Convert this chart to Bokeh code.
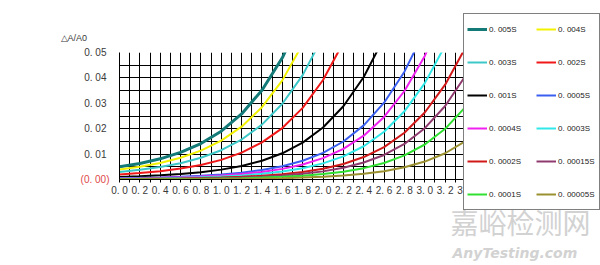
from bokeh.plotting import figure
from bokeh.models import FixedTicker, Legend, LegendItem, Range1d, LinearAxis, Title
from bokeh.embed import file_html
from bokeh.resources import INLINE

# ---- data (absorbance A on x, relative error dA/A0 on y) ----
x_values = [0.0, 0.2, 0.4, 0.6, 0.8, 1.0, 1.2, 1.4, 1.6, 1.8,
            2.0, 2.2, 2.4, 2.6, 2.8, 3.0, 3.2, 3.4, 3.6]

s_0005 = [0.00498, 0.00631, 0.00814, 0.01066, 0.01416, 0.01902, 0.02580, 0.03516, 0.04792, 0.06495]
s_0004 = [0.00398, 0.00505, 0.00652, 0.00855, 0.01136, 0.01530, 0.02080, 0.02846, 0.03903, 0.05334]
s_0003 = [0.00299, 0.00380, 0.00490, 0.00643, 0.00855, 0.01154, 0.01573, 0.02161, 0.02981, 0.04110, 0.05632]
s_0002 = [0.00200, 0.00253, 0.00327, 0.00429, 0.00572, 0.00773, 0.01057, 0.01459, 0.02025, 0.02819, 0.03916, 0.05396]
s_0001 = [0.00100, 0.00127, 0.00164, 0.00215, 0.00287, 0.00389, 0.00533, 0.00739, 0.01033, 0.01452,
          0.02048, 0.02885, 0.04037, 0.05581]
s_00005 = [0.00050, 0.00064, 0.00082, 0.00108, 0.00144, 0.00195, 0.00268, 0.00372, 0.00521, 0.00737,
           0.01049, 0.01496, 0.02132, 0.03024, 0.04245, 0.05863]
s_00004 = [0.00040, 0.00051, 0.00066, 0.00086, 0.00115, 0.00156, 0.00214, 0.00298, 0.00418, 0.00592,
           0.00843, 0.01206, 0.01725, 0.02462, 0.03484, 0.04865, 0.06658]
s_00003 = [0.00030, 0.00038, 0.00049, 0.00065, 0.00086, 0.00117, 0.00161, 0.00224, 0.00314, 0.00445,
           0.00635, 0.00911, 0.01309, 0.01880, 0.02684, 0.03794, 0.05275]
s_00002 = [0.00020, 0.00025, 0.00033, 0.00043, 0.00058, 0.00078, 0.00107, 0.00149, 0.00210, 0.00298,
           0.00426, 0.00612, 0.00883, 0.01276, 0.01840, 0.02637, 0.03734, 0.05197]
s_000015 = [0.00015, 0.00019, 0.00025, 0.00032, 0.00043, 0.00059, 0.00081, 0.00112, 0.00158, 0.00224,
            0.00320, 0.00461, 0.00667, 0.00966, 0.01400, 0.02021, 0.02893, 0.04082, 0.05647]
s_00001 = [0.00010, 0.00013, 0.00016, 0.00022, 0.00029, 0.00039, 0.00054, 0.00075, 0.00105, 0.00149,
           0.00214, 0.00308, 0.00447, 0.00650, 0.00948, 0.01378, 0.01995, 0.02861, 0.04042]
s_000005 = [0.00005, 0.00006, 0.00008, 0.00011, 0.00014, 0.00020, 0.00027, 0.00037, 0.00053, 0.00075,
            0.00107, 0.00155, 0.00225, 0.00328, 0.00481, 0.00706, 0.01034, 0.01511, 0.02189]

series_names = ["0. 005S", "0. 004S", "0. 003S", "0. 002S", "0. 001S", "0. 0005S",
                "0. 0004S", "0. 0003S", "0. 0002S", "0. 00015S", "0. 0001S", "0. 00005S"]
series_values = [s_0005, s_0004, s_0003, s_0002, s_0001, s_00005,
                 s_00004, s_00003, s_00002, s_000015, s_00001, s_000005]
series_colors = ["#137a78", "#f2f200", "#3cc8c8", "#f01818", "#000000", "#3a5ff0",
                 "#f020f0", "#30e8e8", "#d01818", "#8e3a6e", "#30e030", "#9a9030"]
series_widths = [3, 2, 2, 2, 2, 2, 2, 2, 2, 2, 2, 2]

x_tick_values = [0.0, 0.1, 0.2, 0.3, 0.4, 0.5, 0.6, 0.7, 0.8, 0.9, 1.0, 1.1, 1.2, 1.3, 1.4, 1.5,
                 1.6, 1.7, 1.8, 1.9, 2.0, 2.1, 2.2, 2.3, 2.4, 2.5, 2.6, 2.7, 2.8, 2.9, 3.0, 3.1,
                 3.2, 3.3, 3.4]
x_tick_labels = ["0. 0", "", "0. 2", "", "0. 4", "", "0. 6", "", "0. 8", "", "1. 0", "", "1. 2", "",
                 "1. 4", "", "1. 6", "", "1. 8", "", "2. 0", "", "2. 2", "", "2. 4", "", "2. 6", "",
                 "2. 8", "", "3. 0", "", "3. 2", "", "3. 4"]
y_tick_values = [0.01, 0.02, 0.03, 0.04, 0.05]
y_tick_labels = ["0. 01", "0. 02", "0. 03", "0. 04", "0. 05"]
zero_tick = [0.0]
zero_label = ["(0. 00)"]
y_title = "△A/A0"
watermark_cn = "嘉峪检测网"
watermark_en = "AnyTesting.com"

# ---- figure ----
LEFT, TOP, BOTTOM = 119, 52, 86
FRAME_W, FRAME_H = 346, 127
x_end = 3.4

p = figure(width=600, height=265, frame_width=FRAME_W, frame_height=FRAME_H,
           output_backend="svg", toolbar_location=None,
           x_range=Range1d(0, x_end), y_range=Range1d(0, 0.05),
           min_border_left=LEFT, min_border_right=0,
           min_border_top=TOP, min_border_bottom=BOTTOM)
p.outline_line_color = None
p.background_fill_color = "white"
p.border_fill_color = "white"

grid_x = [i / 10 for i in range(0, 35)]
grid_y = [i / 200 for i in range(0, 11)]
p.xgrid.ticker = FixedTicker(ticks=grid_x)
p.ygrid.ticker = FixedTicker(ticks=grid_y)
for g in (p.xgrid, p.ygrid):
    g.grid_line_color = "black"
    g.grid_line_width = 1
    g.grid_line_alpha = 1

font = "Liberation Sans"
p.xaxis.ticker = FixedTicker(ticks=x_tick_values)
p.xaxis.major_label_overrides = {t: l for t, l in zip(x_tick_values, x_tick_labels)}
p.xaxis.major_tick_out = 3
p.xaxis.major_tick_in = 0
p.xaxis.minor_tick_line_color = None
p.xaxis.major_label_standoff = 2
p.yaxis.ticker = FixedTicker(ticks=y_tick_values)
p.yaxis.major_label_overrides = {t: l for t, l in zip(y_tick_values, y_tick_labels)}
p.yaxis.major_tick_out = 0
p.yaxis.major_tick_in = 0
p.yaxis.minor_tick_line_color = None
p.yaxis.major_label_standoff = 13
for ax in (p.xaxis, p.yaxis):
    ax.axis_line_color = "black"
    ax.axis_line_width = 1
    ax.major_tick_line_color = "black"
    ax.major_label_text_font = font
    ax.major_label_text_font_size = "10px"
    ax.major_label_text_color = "#3a3a3a"

# red "(0. 00)" label as a second left axis carrying only the zero tick
zero_axis = LinearAxis(ticker=FixedTicker(ticks=zero_tick),
                       major_label_overrides={t: l for t, l in zip(zero_tick, zero_label)},
                       axis_line_color=None, major_tick_line_color=None,
                       minor_tick_line_color=None, major_tick_out=0, major_tick_in=0,
                       major_label_standoff=-28,
                       major_label_text_font=font, major_label_text_font_size="10px",
                       major_label_text_color="#e04848")
p.add_layout(zero_axis, "left")

items = []
for name, ys, color, w in zip(series_names, series_values, series_colors, series_widths):
    r = p.line(x_values[:len(ys)], ys, line_color=color, line_width=w)
    items.append(LegendItem(label=name, renderers=[r]))

legend = Legend(items=items, location=(-2, -31), orientation="horizontal", ncols=2,
                padding=3, spacing=9, margin=0,
                glyph_width=20, glyph_height=24, label_height=24, label_width=38,
                label_standoff=2,
                label_text_font=font, label_text_font_size="8px", label_text_color="#222222",
                border_line_color="black", border_line_width=1,
                background_fill_color="white", background_fill_alpha=1)
p.add_layout(legend, "right")

p.title = Title(text=y_title, align="left", offset=-59, standoff=19,
                text_font=font, text_font_size="9px", text_font_style="normal",
                text_color="#3a3a3a")

# watermark
p.add_layout(Title(text=watermark_cn, align="left", offset=331, standoff=2,
                   text_font="Noto Sans CJK SC", text_font_size="28px",
                   text_font_style="normal", text_color="#d2d2d2"), "below")
p.add_layout(Title(text=watermark_en, align="left", offset=333, standoff=0,
                   text_font="DejaVu Sans", text_font_size="14px",
                   text_font_style="bold italic", text_color="#d2d2d2"), "below")

open("out.html", "w").write(file_html(p, INLINE))
